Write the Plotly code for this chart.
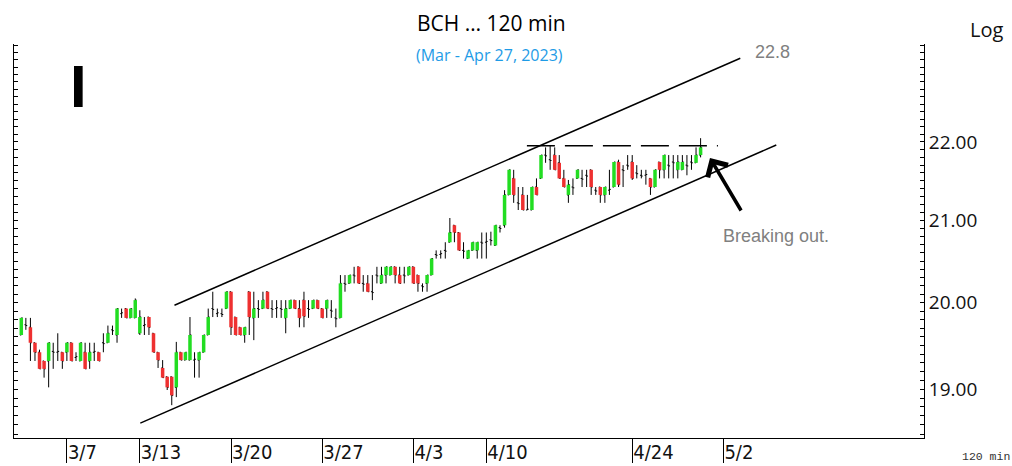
import plotly.graph_objects as go

# ---- data ----
opens = [19.62,19.74,19.71,19.53,19.42,19.32,19.32,19.43,19.42,19.42,
         19.42,19.53,19.36,19.32,19.42,19.32,19.42,19.42,19.53,19.53,
         19.68,19.62,19.87,19.93,19.82,19.82,19.64,19.73,19.83,19.64,
         19.42,19.24,19.14,19.14,19.02,19.42,19.33,19.33,19.33,19.33,
         19.42,19.62,19.93,19.87,19.87,19.93,20.13,19.83,19.71,19.62,
         20.13,19.82,19.93,19.93,20.13,19.93,19.93,19.93,19.82,19.93,
         20.03,19.93,20.03,19.93,19.93,20.03,19.93,19.93,19.91,19.82,
         19.82,20.23,20.23,20.33,20.43,20.23,20.23,20.13,20.33,20.23,
         20.33,20.33,20.43,20.33,20.33,20.33,20.43,20.33,20.20,20.23,
         20.33,20.58,20.58,20.63,20.73,20.94,20.85,20.63,20.53,20.63,
         20.63,20.73,20.73,20.76,20.69,20.91,20.94,21.32,21.53,21.22,
         21.32,21.13,21.13,21.42,21.53,21.83,21.77,21.83,21.73,21.53,
         21.32,21.42,21.53,21.53,21.57,21.64,21.38,21.42,21.32,21.38,
         21.42,21.74,21.64,21.70,21.74,21.60,21.57,21.57,21.53,21.42,
         21.74,21.64,21.70,21.74,21.64,21.64,21.70,21.74,21.73,21.83]
highs = [19.82,19.82,19.82,19.53,19.45,19.32,19.53,19.53,19.64,19.42,
         19.53,19.53,19.42,19.53,19.53,19.53,19.53,19.42,19.64,19.73,
         19.73,19.93,19.93,19.93,19.93,20.05,19.91,19.83,19.83,19.64,
         19.42,19.33,19.14,19.14,19.54,19.42,19.42,19.83,19.42,19.42,
         19.62,19.93,20.13,19.93,19.93,20.13,20.13,19.83,19.71,19.71,
         20.13,20.13,20.03,20.13,20.13,20.03,20.03,20.03,20.03,20.03,
         20.03,20.03,20.13,20.03,20.03,20.03,19.93,20.03,20.03,19.93,
         20.33,20.33,20.33,20.43,20.43,20.33,20.33,20.33,20.43,20.43,
         20.43,20.43,20.43,20.43,20.43,20.43,20.43,20.33,20.23,20.33,
         20.53,20.63,20.63,20.73,21.03,20.94,20.85,20.73,20.63,20.73,
         20.73,20.85,20.85,20.86,20.94,20.94,21.38,21.64,21.64,21.42,
         21.42,21.32,21.42,21.53,21.83,21.93,21.96,21.93,21.83,21.64,
         21.51,21.53,21.64,21.64,21.64,21.64,21.42,21.42,21.42,21.64,
         21.74,21.77,21.70,21.83,21.83,21.70,21.64,21.64,21.53,21.64,
         21.74,21.83,21.83,21.83,21.83,21.83,21.83,21.83,21.93,22.05]
lows = [19.62,19.68,19.32,19.32,19.23,19.13,19.02,19.23,19.32,19.23,
        19.32,19.32,19.32,19.32,19.23,19.23,19.32,19.32,19.42,19.53,
        19.62,19.53,19.82,19.82,19.82,19.82,19.62,19.62,19.62,19.42,
        19.24,19.13,18.99,18.82,18.91,19.33,19.33,19.33,19.13,19.13,
        19.42,19.62,19.83,19.83,19.83,19.93,19.62,19.62,19.62,19.53,
        19.62,19.56,19.82,19.93,19.93,19.82,19.82,19.82,19.64,19.93,
        19.93,19.71,19.71,19.82,19.93,19.93,19.82,19.82,19.82,19.71,
        19.82,20.13,20.23,20.23,20.23,20.13,20.13,20.03,20.23,20.23,
        20.23,20.33,20.23,20.23,20.23,20.33,20.23,20.13,20.13,20.13,
        20.33,20.53,20.53,20.53,20.73,20.73,20.63,20.53,20.53,20.63,
        20.53,20.53,20.53,20.69,20.69,20.85,20.91,21.32,21.22,21.13,
        21.13,21.13,21.13,21.32,21.53,21.73,21.64,21.64,21.53,21.42,
        21.22,21.32,21.53,21.42,21.42,21.32,21.32,21.22,21.22,21.32,
        21.42,21.42,21.42,21.64,21.51,21.53,21.53,21.45,21.32,21.42,
        21.53,21.53,21.53,21.53,21.53,21.64,21.57,21.64,21.73,21.80]
closes = [19.82,19.73,19.53,19.42,19.23,19.23,19.53,19.42,19.43,19.32,
          19.53,19.32,19.37,19.53,19.23,19.42,19.43,19.32,19.52,19.64,
          19.67,19.93,19.88,19.82,19.93,20.03,19.83,19.74,19.71,19.42,
          19.33,19.13,19.02,18.93,19.42,19.33,19.42,19.62,19.34,19.42,
          19.62,19.83,19.92,19.88,19.86,20.13,19.71,19.62,19.62,19.71,
          19.83,19.93,19.92,20.03,19.93,19.92,19.94,19.92,19.93,20.03,
          19.93,19.82,19.84,19.92,20.03,19.93,19.82,20.03,19.90,19.81,
          20.23,20.22,20.33,20.32,20.23,20.22,20.13,20.12,20.32,20.33,
          20.43,20.43,20.33,20.23,20.32,20.43,20.23,20.23,20.19,20.33,
          20.53,20.57,20.59,20.62,20.85,20.85,20.63,20.62,20.63,20.73,
          20.73,20.72,20.74,20.75,20.94,20.90,21.32,21.64,21.32,21.21,
          21.13,21.14,21.42,21.32,21.83,21.82,21.76,21.64,21.53,21.42,
          21.45,21.41,21.64,21.52,21.56,21.42,21.37,21.32,21.42,21.39,
          21.74,21.45,21.63,21.69,21.53,21.59,21.56,21.58,21.42,21.64,
          21.64,21.83,21.69,21.73,21.74,21.74,21.69,21.73,21.83,21.93]
bars = list(range(len(closes)))

x_tick_pos = [10, 26, 46, 66, 86, 102, 134, 154]
x_tick_labels = ["3/7", "3/13", "3/20", "3/27", "4/3", "4/10", "4/24", "5/2"]
y_major = [19, 20, 21, 22]
y_major_labels = ["19.00", "20.00", "21.00", "22.00"]

# channel / annotation lines (bar index, price)
upper_x = [33.6, 157.7]
upper_y = [19.97, 23.12]
lower_x = [26.1, 165.6]
lower_y = [18.62, 21.96]
resist_x = [110.9, 152.8]
resist_y = [21.95, 21.95]

GREEN = "#22dd22"
RED = "#ee3030"

fig = go.Figure()
# wicks with open/close ticks (black)
fig.add_trace(go.Ohlc(x=bars, open=opens, high=highs, low=lows, close=closes,
                      increasing=dict(line=dict(color="black", width=1)),
                      decreasing=dict(line=dict(color="black", width=1)),
                      tickwidth=0.3, hoverinfo="skip", showlegend=False))

# coloured bodies (drawn above the wicks)
for up, color in [(True, GREEN), (False, RED)]:
    bx, by = [], []
    for i, o, c in zip(bars, opens, closes):
        if (c > o) == up and abs(c - o) > 0.015:
            bx += [i, i, None]
            by += [o, c, None]
    fig.add_trace(go.Scatter(x=bx, y=by, mode="lines", hoverinfo="skip", showlegend=False,
                             line=dict(color=color, width=3.5)))

for xs, ys, dash in [(upper_x, upper_y, "solid"), (lower_x, lower_y, "solid"),
                     (resist_x, resist_y, "28px,10px")]:
    fig.add_trace(go.Scatter(x=xs, y=ys, mode="lines", hoverinfo="skip", showlegend=False,
                             line=dict(color="black", width=1.5, dash=dash)))

# y ticks every 0.1 on log axis
y_ticks = [round(18.5 + 0.1 * k, 1) for k in range(49)]
y_text = []
for v in y_ticks:
    lab = ""
    for m, t in zip(y_major, y_major_labels):
        if abs(v - m) < 1e-6:
            lab = t
    y_text.append(lab)

fig.update_layout(
    width=1012, height=466,
    margin=dict(l=14, r=88, t=44, b=28, autoexpand=False),
    paper_bgcolor="white", plot_bgcolor="white",
    xaxis=dict(range=[-1.6, 198], tickmode="array", tickvals=x_tick_pos, ticktext=x_tick_labels,
               ticks="outside", ticklen=24, tickcolor="black", tickwidth=1,
               ticklabelposition="outside right", ticklabelstandoff=-4, automargin=False,
               tickfont=dict(family="Liberation Sans Narrow, DejaVu Sans Condensed, Roboto, sans-serif",
                             size=20, color="#111"),
               showline=True, linecolor="black", linewidth=1, showgrid=False, zeroline=False,
               rangeslider=dict(visible=False)),
    yaxis=dict(type="log", range=[1.26616, 1.36767], side="right", automargin=False,
               tickmode="array", tickvals=y_ticks, ticktext=y_text,
               ticks="inside", ticklen=4, tickcolor="black", tickwidth=1,
               tickfont=dict(family="Open Sans", size=19, color="#111"),
               showline=True, linecolor="black", linewidth=1, mirror="ticks",
               showgrid=False, zeroline=False),
    font=dict(family="Open Sans", color="black"),
)

ann = [
    dict(text="BCH \u2026 120 min", x=0.525, y=1.053, font=dict(size=21, color="black")),
    dict(text="(Mar - Apr 27, 2023)", x=0.522, y=0.972, font=dict(size=16, color="#1e9be6")),
    dict(text="Log", x=1.069, y=1.036, font=dict(size=20, color="#111")),
    dict(text="<b>I</b>", x=0.0714, y=0.891, font=dict(family="Liberation Sans", size=60, color="black")),
    dict(text="22.8", x=0.833, y=0.980, font=dict(family="Liberation Sans", size=18, color="#808080")),
    dict(text="Breaking out.", x=0.837, y=0.513, font=dict(family="Liberation Sans", size=18, color="#808080")),
    dict(text="120 min", x=1.068, y=-0.048, font=dict(family="Liberation Mono", size=11.5, color="#333")),
]
for a in ann:
    fig.add_annotation(xref="paper", yref="paper", showarrow=False, xanchor="center", yanchor="middle", **a)

fig.add_annotation(xref="paper", yref="paper", x=0.7648, y=0.7107, ax=32, ay=54,
                   showarrow=True, arrowhead=4, arrowsize=1.3, arrowwidth=3.5, arrowcolor="black", text="")

fig.write_html("out.html", config={"displayModeBar": False},
               post_script="document.body.style.margin='0px';document.body.style.overflow='hidden';")
